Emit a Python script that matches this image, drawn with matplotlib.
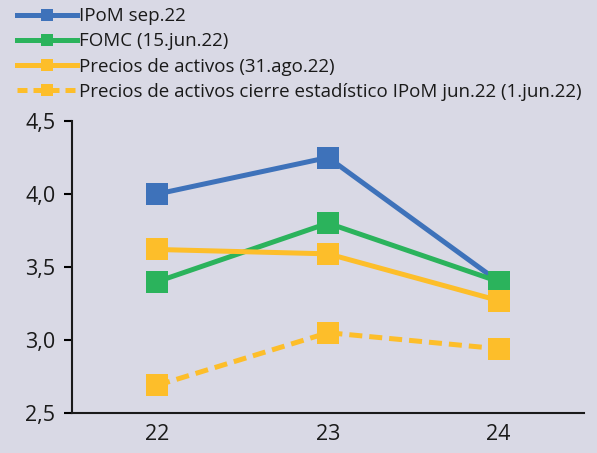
import matplotlib
matplotlib.use("Agg")
import matplotlib.pyplot as plt
from matplotlib.lines import Line2D

categories = ["22", "23", "24"]
ipom_sep22 = [4.0, 4.25, 3.4]
fomc_jun22 = [3.4, 3.8, 3.4]
precios_ago22 = [3.62, 3.59, 3.27]
precios_jun22 = [2.69, 3.05, 2.94]
yticks = [2.5, 3.0, 3.5, 4.0, 4.5]
ytick_labels = ["2,5", "3,0", "3,5", "4,0", "4,5"]

labels = ["IPoM sep.22", "FOMC (15.jun.22)", "Precios de activos (31.ago.22)",
          "Precios de activos cierre estadístico IPoM jun.22 (1.jun.22)"]

blue = "#3E72BA"
green = "#2BB35C"
yellow = "#FDBE2A"
bg = "#D9D9E5"

plt.rcParams['font.family'] = ['Open Sans', 'DejaVu Sans']

fig = plt.figure(figsize=(5.97, 4.53), dpi=100, facecolor=bg)
ax = fig.add_axes([72/597, 40/453, 512/597, 292/453])
ax.set_facecolor(bg)

x = list(range(len(categories)))
lw = 3.6
ms = 15.5
series = [(ipom_sep22, blue, '-'), (fomc_jun22, green, '-'),
          (precios_ago22, yellow, '-'), (precios_jun22, yellow, (0, (2.6, 1.4)))]
for vals, c, ls in series:
    ax.plot(x, vals, color=c, lw=lw, ls=ls, marker='s', ms=ms,
            markeredgewidth=0, solid_capstyle='butt', dash_capstyle='butt')

ax.set_xlim(-0.5, 2.5)
ax.set_ylim(2.5, 4.5)
ax.set_xticks(x)
ax.set_xticklabels(categories, fontsize=15.5, color="#1a1a1a")
ax.set_yticks(yticks)
ax.set_yticklabels(ytick_labels, fontsize=15.5, color="#1a1a1a")
ax.tick_params(axis='x', length=0, pad=8)
ax.tick_params(axis='y', length=6, width=1.5, direction='out', pad=6)
for s in ['top', 'right']:
    ax.spines[s].set_visible(False)
for s in ['left', 'bottom']:
    ax.spines[s].set_linewidth(1.5)
    ax.spines[s].set_color("#1a1a1a")

handles = []
for vals, c, ls in series:
    handles.append(Line2D([0], [0], color=c, lw=3.6, ls=ls if ls == '-' else (0, (2.0, 1.2)),
                          marker='s', ms=8, markeredgewidth=0))
fig.legend(handles, labels, loc='upper left', bbox_to_anchor=(6/597, 1 + 4/453),
           frameon=False, fontsize=13.5, handlelength=3.2, handletextpad=0.1,
           labelspacing=0.38, borderaxespad=0.2, labelcolor="#1a1a1a")

fig.savefig("out.png", dpi=100, facecolor=bg)
